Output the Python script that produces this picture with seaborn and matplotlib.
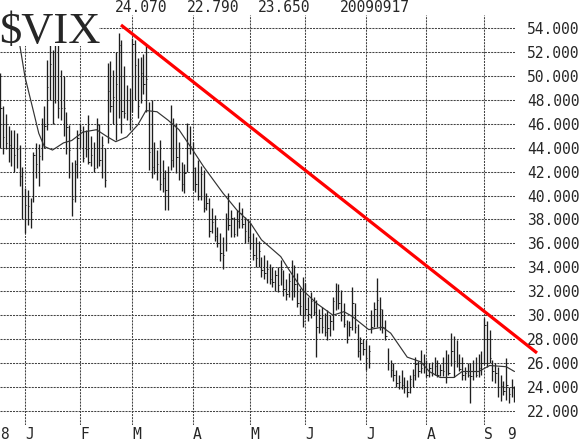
import matplotlib
matplotlib.use('Agg')
import pandas as pd
import matplotlib.pyplot as plt
from matplotlib.patches import Rectangle
import seaborn as sns

# one entry per trading session, 2008-12-18 .. 2009-09-17
vix_high = [
    50.2, 47.5, 46.8, 45.8, 45.5, 45.5, 45.2, 44.2, 42.4,
    40.6, 40.5, 39.8, 43.6, 44.4, 44.3, 46.5, 47.5, 51.3, 54.0, 52.2, 57.4, 56.0, 50.5, 50.0, 47.0, 45.9, 42.8, 43.0, 45.5,
    46.0, 45.8, 45.5, 46.7, 45.0, 44.5, 46.5, 46.0, 45.0, 44.0, 51.1, 51.2, 50.5, 52.0, 53.6, 53.0, 50.8, 49.2, 49.0,
    53.2, 53.0, 51.5, 51.6, 51.8, 52.7, 47.8, 48.0, 44.5, 43.8, 44.6, 43.0, 42.1, 42.5, 47.6, 46.5, 46.1, 44.5, 42.8, 42.6, 46.1, 45.8,
    44.5, 42.4, 43.0, 42.5, 42.1, 40.2, 39.8, 39.0, 38.4, 37.4, 36.9, 36.5, 38.5, 40.2, 38.8, 38.2, 38.8, 39.5, 39.0, 38.2, 38.0,
    37.7, 36.9, 36.5, 36.2, 34.9, 35.0, 34.6, 34.3, 34.0, 33.8, 34.0, 34.6, 33.8, 33.0, 33.5, 34.6, 34.2, 33.5, 32.3, 33.2,
    32.7, 31.5, 31.9, 31.5, 31.3, 30.5, 30.7, 30.2, 30.4, 30.0, 31.5, 32.7, 32.6, 32.1, 31.0, 29.6, 29.5, 32.4, 31.0, 29.3, 28.2, 28.0,
    27.9, 27.5, 30.4, 31.1, 33.1, 31.5, 30.5, 29.6, 27.3, 26.3, 26.0, 25.4, 25.0, 25.4, 24.8, 24.6, 25.0, 25.5, 26.5, 26.2, 27.1, 26.8,
    26.3, 26.0, 26.1, 26.5, 26.3, 25.9, 26.5, 27.1, 26.8, 28.5, 28.3, 27.9, 26.8, 26.5, 25.7, 26.0, 26.0, 26.3, 26.5, 26.8, 27.0,
    29.8, 29.5, 28.8, 26.3, 26.0, 25.7, 25.0, 24.5, 26.4, 24.0, 24.7, 24.07,
]
vix_low = [
    44.0, 43.5, 43.9, 42.8, 42.5, 42.0, 42.3, 40.8, 38.0,
    36.9, 37.5, 37.3, 39.5, 41.5, 40.8, 43.0, 44.0, 45.5, 48.0, 46.0, 47.7, 46.5, 46.3, 45.0, 43.5, 41.5, 38.3, 39.5, 41.5,
    44.0, 42.8, 43.2, 42.6, 42.5, 42.0, 42.3, 42.5, 41.5, 40.7, 44.4, 47.0, 46.0, 44.6, 46.5, 45.2, 46.5, 46.3, 45.5,
    47.0, 48.0, 46.5, 47.7, 48.5, 47.0, 42.1, 41.5, 41.8, 41.3, 40.5, 40.3, 38.8, 38.8, 42.1, 42.4, 41.9, 41.3, 40.4, 40.2, 42.0, 43.5,
    40.5, 40.3, 39.6, 39.6, 38.6, 38.8, 36.5, 36.9, 36.2, 35.7, 34.5, 33.9, 35.4, 37.1, 36.5, 36.5, 36.6, 37.3, 37.3, 36.0, 36.1,
    35.5, 34.6, 34.0, 34.0, 33.2, 33.0, 32.7, 32.6, 32.4, 32.0, 31.9, 32.5, 31.6, 31.3, 31.5, 31.3, 31.5, 30.7, 30.0, 29.0,
    29.9, 29.5, 29.8, 30.0, 26.5, 28.5, 28.5, 28.3, 27.9, 28.3, 28.8, 30.4, 30.5, 29.5, 29.0, 27.7, 28.3, 28.8, 28.5, 26.5, 26.3, 26.7,
    25.4, 25.6, 28.5, 29.0, 29.0, 28.8, 28.5, 27.9, 25.4, 24.8, 24.5, 24.0, 23.8, 23.8, 23.5, 23.2, 23.5, 24.0, 24.6, 24.8, 25.2, 25.2,
    24.8, 24.8, 24.9, 25.0, 24.8, 24.9, 24.9, 24.3, 25.0, 25.8, 24.8, 25.7, 25.3, 24.6, 24.6, 24.8, 22.7, 24.6, 24.8, 24.8, 25.0,
    25.9, 25.7, 26.0, 24.5, 24.3, 23.2, 22.8, 23.3, 22.9, 22.7, 23.2, 22.79,
]
vix_close = [
    47.3, 44.9, 44.4, 44.2, 44.0, 43.4, 43.9, 41.6, 40.0,
    39.2, 39.1, 38.6, 43.4, 42.6, 43.3, 46.0, 45.8, 49.1, 51.0, 46.1, 56.6, 47.3, 47.3, 47.3, 45.7, 43.8, 39.7, 42.6, 44.8,
    45.5, 43.1, 43.9, 42.8, 43.4, 42.3, 45.9, 43.0, 44.2, 41.3, 48.7, 47.5, 48.2, 49.3, 52.6, 47.1, 46.9, 48.0, 46.4,
    52.7, 50.9, 47.5, 50.2, 49.3, 49.7, 43.6, 42.4, 42.0, 42.6, 41.0, 41.5, 40.5, 42.0, 43.0, 45.9, 43.2, 42.0, 41.0, 41.9, 44.0, 44.1,
    42.3, 41.0, 40.0, 41.8, 39.0, 39.4, 37.0, 37.8, 36.6, 36.0, 35.2, 35.0, 38.1, 37.5, 38.1, 36.8, 37.9, 38.5, 37.6, 37.0, 36.5,
    36.0, 35.0, 34.8, 35.4, 33.8, 33.5, 33.9, 33.0, 32.8, 33.4, 32.5, 33.9, 32.2, 31.8, 32.9, 32.0, 32.6, 31.0, 30.8, 29.5,
    30.5, 30.1, 31.2, 30.3, 29.0, 29.8, 29.0, 28.6, 28.9, 29.5, 31.2, 32.0, 31.0, 30.0, 29.3, 28.0, 29.0, 31.0, 29.0, 27.0, 27.7, 27.2,
    26.4, 27.0, 29.0, 30.5, 31.3, 30.5, 29.0, 28.3, 26.0, 25.4, 25.0, 24.3, 24.4, 24.2, 24.0, 23.6, 24.7, 25.0, 25.9, 25.3, 25.6, 26.0,
    25.0, 25.6, 25.2, 25.8, 25.0, 25.4, 25.3, 26.0, 25.2, 27.0, 26.2, 26.0, 25.5, 25.0, 25.2, 25.0, 24.9, 25.3, 25.0, 25.6, 26.0,
    29.2, 28.0, 26.4, 25.3, 25.2, 24.0, 24.1, 23.7, 24.2, 23.4, 23.9, 23.65,
]

# moving average at a set of sessions
ma_day = [0, 3, 7, 9, 12, 14, 16, 19, 23, 26, 30, 35, 39, 42, 46, 50, 53, 57, 61, 65,
          70, 74, 81, 86, 91, 95, 102, 105, 110, 115, 121, 125, 128, 134, 139, 142, 148, 153, 156, 160,
          165, 168, 174, 178, 184, 187]
ma_value = [60.0, 56.5, 52.7, 49.9, 47.1, 45.2, 44.1, 43.8, 44.4, 44.6, 45.3, 45.5, 44.9, 44.5, 44.9, 45.9, 47.1, 47.0, 46.3, 45.5,
            43.8, 42.4, 40.2, 38.8, 37.7, 36.3, 34.9, 33.8, 32.1, 31.0, 30.0, 30.3, 29.9, 28.8, 29.0, 28.5, 26.5, 26.1, 25.3, 24.8,
            24.8, 25.3, 25.3, 25.8, 25.7, 25.3]

# red resistance line
trend_day = [43.9, 195.2]
trend_value = [54.25, 26.85]

month_start = [9, 29, 48, 70, 91, 111, 133, 155, 176]
x_label_pos = [-0.1, 9, 29, 48, 70, 91, 111, 133, 155, 176, 184.3]
x_labels = ['8', 'J', 'F', 'M', 'A', 'M', 'J', 'J', 'A', 'S', '9']
y_ticks = list(range(22, 55, 2))

header_values = ['24.070', '22.790', '23.650', '20090917']
header_px = [115, 187, 258, 340]

W, H = 588, 441
sns.set_style('white')
mono = 'DejaVu Sans Mono'

bars = pd.DataFrame({'day': range(len(vix_high)), 'high': vix_high,
                     'low': vix_low, 'close': vix_close})
ma = pd.DataFrame({'day': ma_day, 'ma': ma_value})

fig = plt.figure(figsize=(W / 100, H / 100), dpi=100)
ax = fig.add_axes([0, 16 / H, 515 / W, 410 / H])
ax.set_facecolor('white')

grid_kw = dict(color='#444444', linewidth=0.75, linestyle=(0, (2, 1)), zorder=1)

ax.vlines(bars['day'], bars['low'], bars['high'], color='#1e1e1e', linewidth=0.95, zorder=2)
ax.hlines(bars['close'], bars['day'], bars['day'] + 0.5, color='#1e1e1e', linewidth=0.7, zorder=2)
sns.lineplot(data=ma, x='day', y='ma', ax=ax, color='#333333', linewidth=0.85, zorder=3)
ax.plot(trend_day, trend_value, color='#ff0000', linewidth=2.3, clip_on=False,
        solid_capstyle='butt', zorder=4)

ax.set_xlim(-0.1, 187.2)
ax.set_ylim(22 - 14 / 11.97, 22 + 396 / 11.97)

for v in y_ticks:
    ax.axhline(v, **grid_kw)
for d in month_start:
    ax.axvline(d, **grid_kw)

ax.set_yticks(y_ticks)
ax.set_yticklabels([f'{v:.3f}' for v in y_ticks], family=mono, fontsize=10.5)
ax.yaxis.tick_right()
ax.set_xticks(x_label_pos)
ax.set_xticklabels(x_labels, family=mono, fontsize=10.5, ha='left')
ax.tick_params(which='both', length=0)
ax.tick_params(axis='y', pad=8.6)
ax.tick_params(axis='x', pad=1.5)
ax.grid(False)
ax.set_xlabel('')
ax.set_ylabel('')
for s in ax.spines.values():
    s.set_visible(False)

for txt, px in zip(header_values, header_px):
    fig.text(px / W, 1 - 8 / H, txt, ha='left', va='center', family=mono, fontsize=10.5)

# white plate behind the symbol, hides grid and bars under it
fig.add_artist(Rectangle((0, 1 - 46 / H), 99 / W, 44 / H, transform=fig.transFigure,
                         facecolor='white', edgecolor='none', zorder=9))
fig.text(-1 / W, 1 - 43 / H, '$VIX', ha='left', va='baseline', family='Liberation Serif',
         fontsize=32, zorder=10)

fig.savefig('out.png', dpi=100)
